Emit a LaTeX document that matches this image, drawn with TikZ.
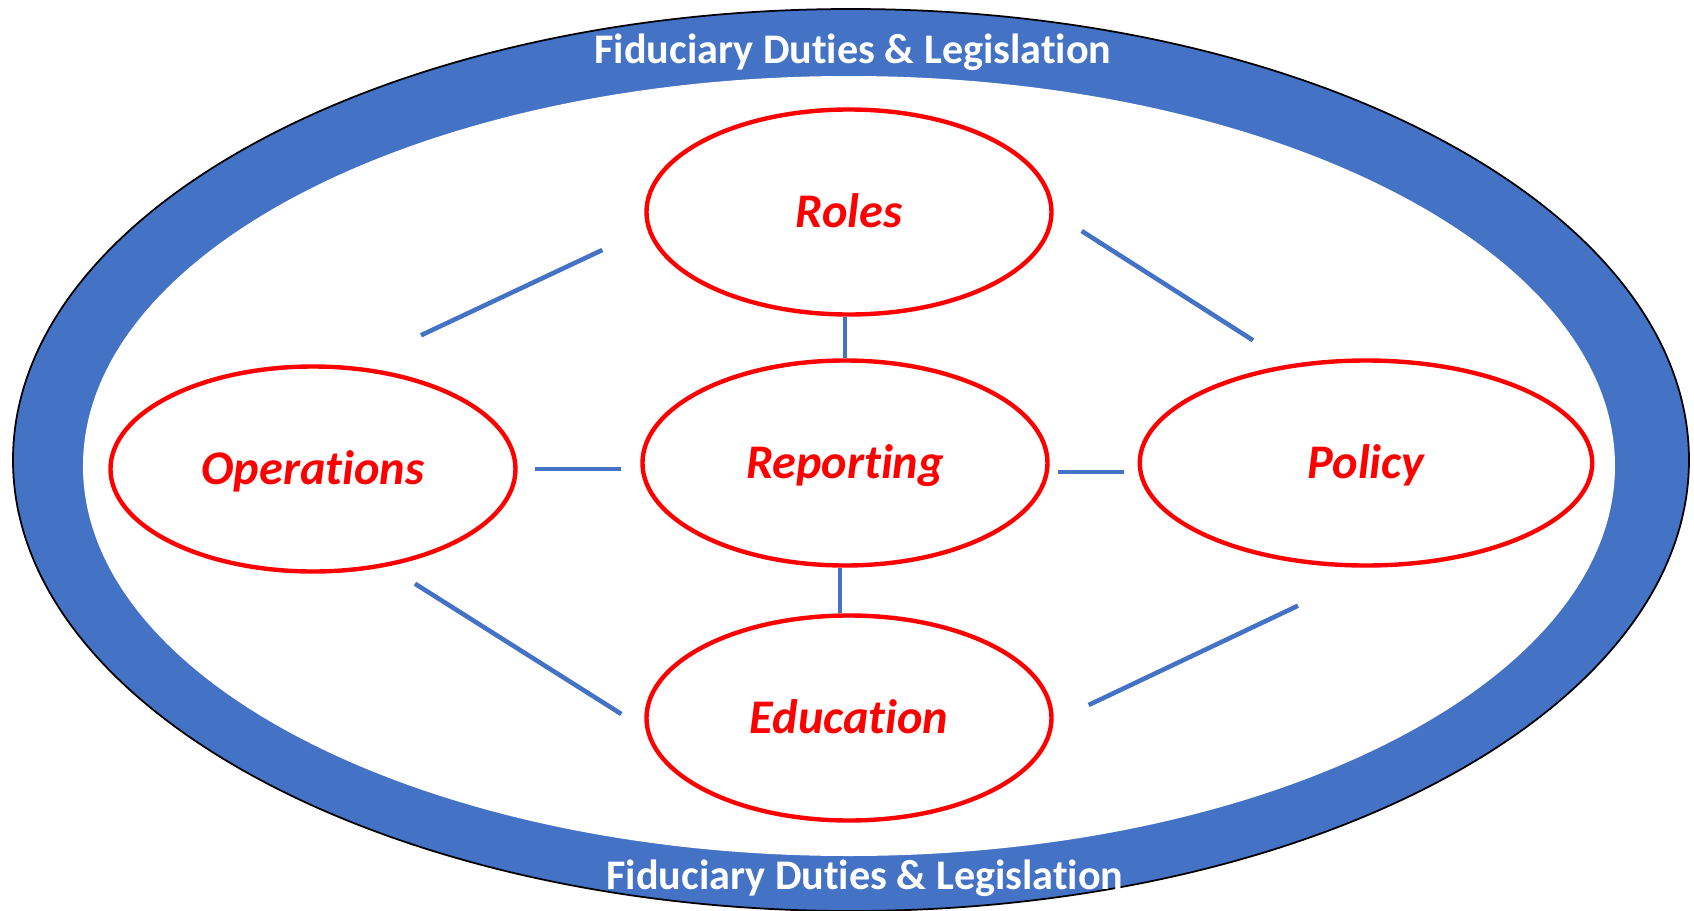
\documentclass[tikz,border=0pt]{standalone}
\usepackage{fontspec}
\setmainfont{Carlito}[Ligatures=NoCommon]
\usetikzlibrary{shapes.geometric,calc}
\definecolor{bandblue}{HTML}{4472C4}
\definecolor{topicred}{HTML}{FF0000}

\begin{document}
\begin{tikzpicture}[
  every node/.style={font=\fontsize{24}{29}\selectfont\bfseries},
  topic/.style={ellipse,draw=topicred,line width=2.5pt,fill=white,text=topicred,font=\fontsize{27.5}{33}\selectfont\bfseries\itshape,inner sep=0pt,minimum width=8.1cm,minimum height=4.1cm,text height=17.5pt,text depth=0pt},
  band/.style={text=white,anchor=base,inner sep=0pt},
  link/.style={draw=bandblue,line width=2.6pt}]
\useasboundingbox (-16.94,-9.1) rectangle (16.94,9.1);
% outer ring
\draw[black,line width=1pt,fill=bandblue] (0.08,-0.1) ellipse [x radius=16.76,y radius=9.02];
\fill[white] (0.04,-0.22) ellipse [x radius=15.32,y radius=7.8];
\node[band] (dutytop) at (0.12,7.84) {Fiduciary Duties \& Legislation};
\node[band] (dutybot) at (0.36,-8.68) {Fiduciary Duties \& Legislation};
% topics
\node[topic] (roles) at (0.04,4.86) {Roles};
\node[topic] (reporting) at (-0.04,-0.16) {Reporting};
\node[topic] (ops) at (-10.68,-0.28) {Operations};
\node[topic,minimum width=9.05cm] (policy) at (10.38,-0.16) {Policy};
\node[topic] (edu) at (0.04,-5.26) {Education};
% links
\draw[link] (reporting.north) -- (reporting.north |- roles.south);
\draw[link] ([xshift=-1mm]reporting.south) -- ([xshift=-1mm]reporting.south |- edu.north);
\draw[link,shorten <=0.34cm,shorten >=0.38cm] (ops.east) -- (ops.east -| reporting.west);
\draw[link,shorten <=0.16cm,shorten >=0.28cm] ([yshift=-0.18cm]reporting.east) -- ([yshift=-0.18cm]reporting.east -| policy.west);
\draw[link] ($(ops.north)+(2.16,0.58)$) -- ($(roles.west)+(-0.84,-0.76)$);
\draw[link] ($(roles.east)+(0.56,-0.38)$) -- ($(policy.north)+(-2.26,0.36)$);
\draw[link] ($(ops.south)+(2.04,-0.2)$) -- ($(edu.west)+(-0.46,0.08)$);
\draw[link] ($(edu.east)+(0.7,0.26)$) -- ($(policy.south)+(-1.36,-0.76)$);
\end{tikzpicture}
\end{document}
